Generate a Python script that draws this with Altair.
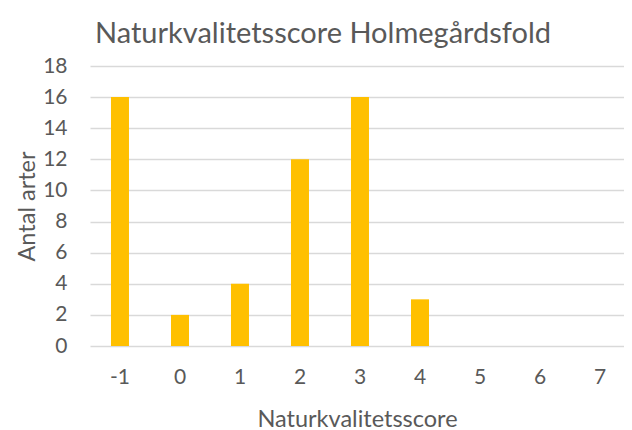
import altair as alt
import pandas as pd

scores = ["-1", "0", "1", "2", "3", "4", "5", "6", "7"]
counts = [16, 2, 4, 12, 16, 3, 0, 0, 0]
y_ticks = [0, 2, 4, 6, 8, 10, 12, 14, 16, 18]

df = pd.DataFrame({"score": scores, "count": counts})

FONT = "Lato"
GREY = "#595959"

chart = (
    alt.Chart(df)
    .mark_bar(color="#FFC000")
    .encode(
        x=alt.X(
            "score:N",
            sort=scores,
            scale=alt.Scale(paddingInner=0.7, paddingOuter=0.3, align=0.583),
            axis=alt.Axis(
                title="Naturkvalitetsscore",
                labelAngle=0,
                labelFontSize=21,
                labelColor=GREY,
                labelFont=FONT,
                labelPadding=20,
                ticks=False,
                domain=False,
                titleFontSize=23.5,
                titleFont=FONT,
                titleColor=GREY,
                titleFontWeight="normal",
                titleY=80,
                titleBaseline="alphabetic",
            ),
        ),
        y=alt.Y(
            "count:Q",
            scale=alt.Scale(domain=[0, 18], nice=False),
            axis=alt.Axis(
                title="Antal arter",
                values=y_ticks,
                labelFontSize=21,
                labelColor=GREY,
                labelFont=FONT,
                labelPadding=23,
                ticks=False,
                domain=False,
                grid=True,
                gridColor="#d9d9d9",
                gridWidth=1.3,
                titleFontSize=23.5,
                titleFont=FONT,
                titleColor=GREY,
                titleFontWeight="normal",
                titleX=-63,
                titleY=140,
                titleAngle=-90,
                titleAlign="center",
                titleBaseline="middle",
            ),
        ),
    )
    .properties(
        width=534,
        height=280,
        title=alt.TitleParams(
            "Naturkvalitetsscore Holmegårdsfold",
            anchor="start",
            frame="group",
            font=FONT,
            fontSize=29,
            fontWeight="normal",
            color=GREY,
            dx=5,
            offset=6,
        ),
        padding={"left": 82, "top": 58, "right": 0, "bottom": 84},
        autosize="none",
    )
    .configure_view(stroke=None)
)

chart.save("out.html", embed_options={"renderer": "svg", "actions": False})
